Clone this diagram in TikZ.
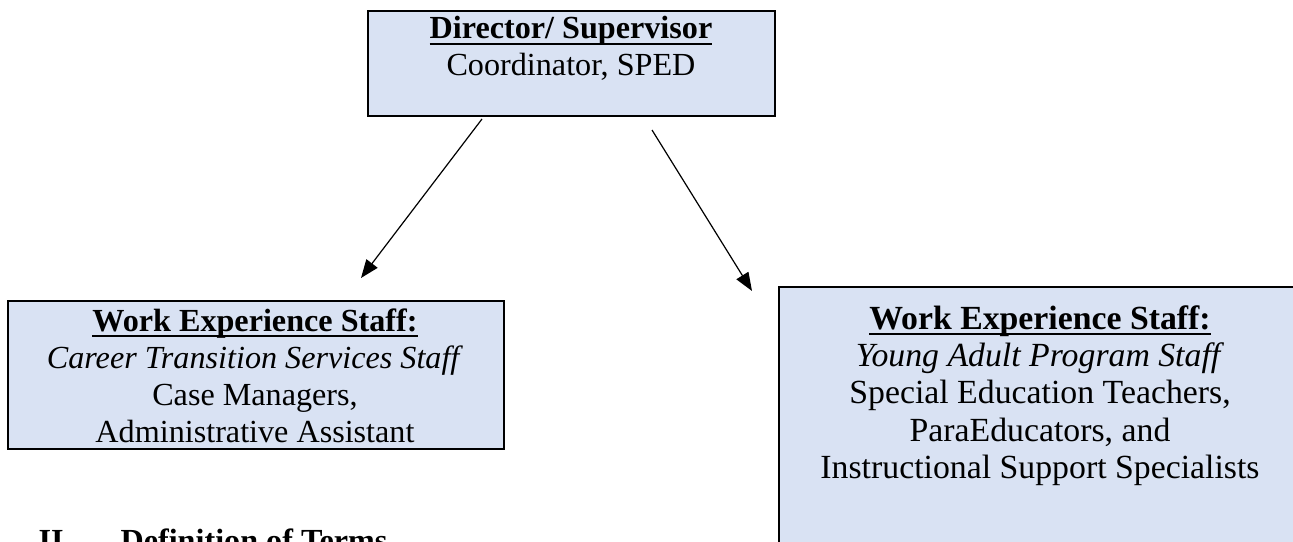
\documentclass[tikz,border=0pt]{standalone}
\usepackage{fontspec}
\setmainfont{Liberation Serif}
\usetikzlibrary{arrows.meta}
\definecolor{boxfill}{HTML}{D9E2F3}
\newcommand\myul[1]{\leavevmode\setbox0\hbox{#1}\rlap{\rule[-2.3pt]{\wd0}{0.8pt}}\box0}
\begin{document}
\begin{tikzpicture}[x=0.373pt,y=-0.373pt,
  box/.style={draw=black,line width=0.75pt,fill=boxfill,inner sep=0pt,anchor=north west},
  txt/.style={align=center,inner sep=0pt,anchor=north,font=\fontsize{12}{13.8}\selectfont},
  txtb/.style={align=center,inner sep=0pt,anchor=north,font=\fontsize{12.6}{13.9}\selectfont},
  arr/.style={-{Triangle[length=6.8pt,width=5.2pt]},line width=0.45pt}]
\useasboundingbox (0,0) rectangle (1293,542);
\clip (0,0) rectangle (1293,542);
% boxes
\node[box,minimum width=151.8pt,minimum height=39.2pt] (top) at (367,10) {};
\node[box,minimum width=185.0pt,minimum height=55.2pt] (left) at (7,300) {};
\node[box,minimum width=205pt,minimum height=117pt] (right) at (778,286) {};
% texts
\node[txt] (toptxt) at (571,16) {\myul{\textbf{Director/ Supervisor}}\\Coordinator, SPED};
\node[txt] (lefttxt) at (255,308) {\myul{\textbf{Work Experience Staff:}}\\\textit{Career Transition Services Staff}\\Case Managers,\\Administrative Assistant};
\node[txtb] (righttxt) at (1040,305) {\myul{\textbf{Work Experience Staff:}}\\\textit{Young Adult Program Staff}\\Special Education Teachers,\\ParaEducators, and\\Instructional Support Specialists};
% arrows
\coordinate (s1) at (482,119);
\coordinate (e1) at (361,278);
\coordinate (s2) at (652,130);
\coordinate (e2) at (752,291);
\draw[arr] (s1) -- (e1);
\draw[arr] (s2) -- (e2);
% heading
\node[inner sep=0pt,anchor=base west,font=\fontsize{12}{14}\selectfont\bfseries] (num) at (38,551) {II.};
\node[inner sep=0pt,anchor=base west,font=\fontsize{12}{14}\selectfont\bfseries] (head) at (120,551) {Definition of Terms};
\end{tikzpicture}
\end{document}
